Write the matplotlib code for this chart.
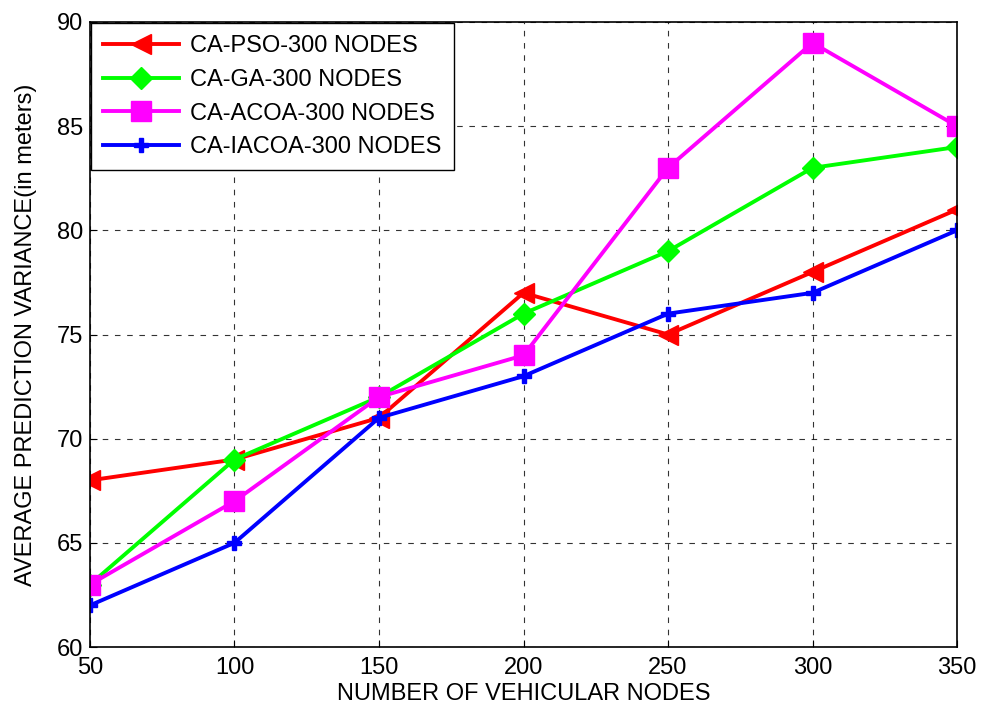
import matplotlib

matplotlib.use("Agg")
import matplotlib.pyplot as plt

plt.rcParams["font.family"] = ["Liberation Sans", "DejaVu Sans"]

# ── data ─────────────────────────────────────────────────────────────────────
nodes = [50, 100, 150, 200, 250, 300, 350]
pso = [68, 69, 71, 77, 75, 78, 81]
ga = [63, 69, 72, 76, 79, 83, 84]
acoa = [63, 67, 72, 74, 83, 89, 85]
iacoa = [62, 65, 71, 73, 76, 77, 80]

SERIES = [
    (pso, "CA-PSO-300 NODES", "#ff0000", "<", 15),
    (ga, "CA-GA-300 NODES", "#00ff00", "D", 11),
    (acoa, "CA-ACOA-300 NODES", "#ff00ff", "s", 14),
    (iacoa, "CA-IACOA-300 NODES", "#0000ff", "P", 10),
]

FS = 17

fig = plt.figure(figsize=(9.83, 7.08), dpi=100)
ax = fig.add_axes([90 / 983, 61 / 708, 867 / 983, 625 / 708])

for vals, label, color, marker, ms in SERIES:
    ax.plot(nodes, vals, color=color, marker=marker, markersize=ms,
            linewidth=2.8, label=label, markeredgecolor=color)

ax.set_xlim(50, 350)
ax.set_ylim(60, 90)
ax.set_xticks(nodes)
ax.set_yticks(range(60, 91, 5))
ax.tick_params(labelsize=FS, direction="in", length=5)
ax.tick_params(axis="x", pad=7)
ax.tick_params(axis="y", pad=5)
ax.grid(True, linestyle=(0, (5, 6)), color="black", linewidth=0.8, alpha=0.8)
ax.set_xlabel("NUMBER OF VEHICULAR NODES", fontsize=FS, labelpad=3)
ax.set_ylabel("AVERAGE PREDICTION VARIANCE(in meters)", fontsize=FS, labelpad=14)
for sp in ax.spines.values():
    sp.set_linewidth(1.2)

leg = ax.legend(loc="upper left", fontsize=FS, fancybox=False, framealpha=1,
                edgecolor="black", borderaxespad=0.05, handlelength=3.2,
                handletextpad=0.5, labelspacing=0.5, borderpad=0.5)
leg.get_frame().set_linewidth(1.0)

fig.savefig("out.png", dpi=100)
